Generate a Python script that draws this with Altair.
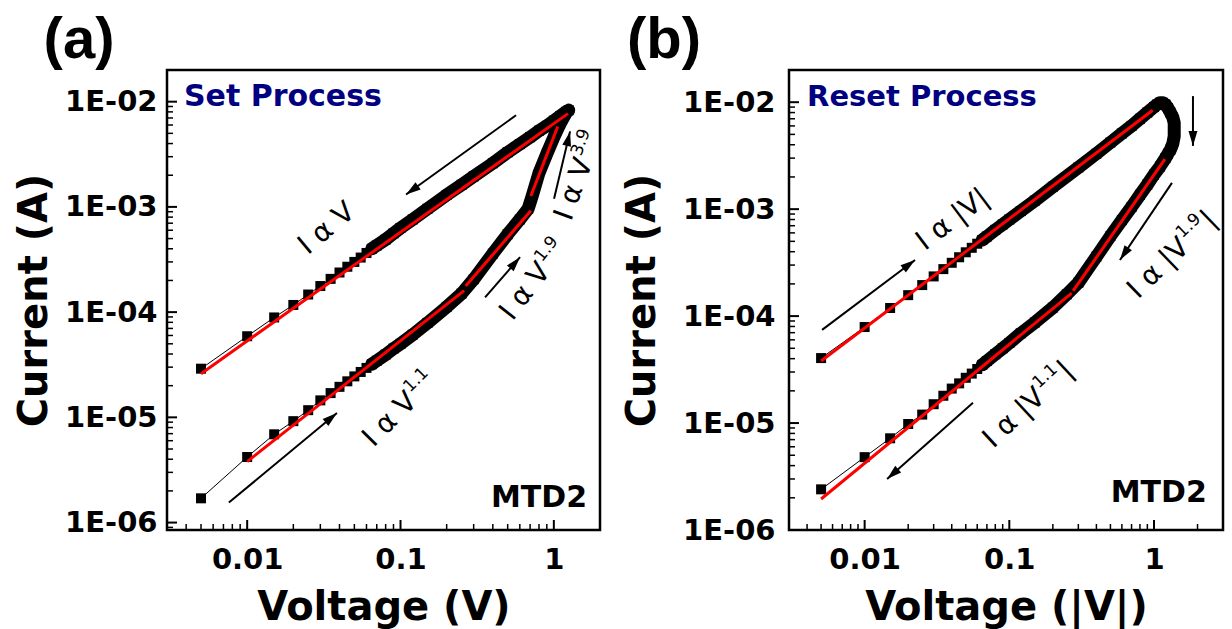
import math
import altair as alt
import pandas as pd

# ---------------- data ----------------
# (a) Set process: forward sweep (low state), then backward sweep (high state)
a_fwd_v = [0.005, 0.01, 0.015, 0.02, 0.025, 0.03, 0.035, 0.04, 0.045, 0.05, 0.055, 0.06, 0.065,
           0.07, 0.08, 0.09, 0.1, 0.12, 0.15, 0.2, 0.25, 0.3, 0.4, 0.5, 0.6, 0.68, 0.72, 0.8,
           0.9, 1.0, 1.1, 1.2, 1.25]
a_fwd_i = [1.7e-6, 4.2e-6, 6.9e-6, 9.2e-6, 1.17e-5, 1.45e-5, 1.7e-5, 1.95e-5, 2.2e-5, 2.45e-5,
           2.7e-5, 2.95e-5, 3.2e-5, 3.45e-5, 3.95e-5, 4.5e-5, 5.0e-5, 6.1e-5, 7.9e-5, 1.12e-4,
           1.5e-4, 2.05e-4, 3.6e-4, 5.5e-4, 7.6e-4, 9.6e-4, 1.25e-3, 2.1e-3, 3.2e-3, 4.6e-3,
           6.2e-3, 7.8e-3, 8.3e-3]
a_bwd_v = [1.2, 1.1, 1.0, 0.9, 0.8, 0.7, 0.6, 0.5, 0.4, 0.3, 0.25, 0.2, 0.15, 0.12, 0.1, 0.09,
           0.08, 0.07, 0.065, 0.06, 0.055, 0.05, 0.045, 0.04, 0.035, 0.03, 0.025, 0.02, 0.015,
           0.01, 0.005]
a_bwd_i = [8.0e-3, 7.3e-3, 6.6e-3, 5.9e-3, 5.3e-3, 4.6e-3, 3.95e-3, 3.3e-3, 2.6e-3, 1.95e-3,
           1.62e-3, 1.3e-3, 9.6e-4, 7.6e-4, 6.3e-4, 5.6e-4, 4.9e-4, 4.3e-4, 4.0e-4, 3.65e-4,
           3.3e-4, 3.0e-4, 2.7e-4, 2.38e-4, 2.07e-4, 1.77e-4, 1.47e-4, 1.17e-4, 8.9e-5, 5.9e-5,
           2.9e-5]

# (b) Reset process: rising |V| (high state), reset drop, falling |V| (low state)
b_up_v = [0.005, 0.01, 0.015, 0.02, 0.025, 0.03, 0.035, 0.04, 0.045, 0.05, 0.055, 0.06, 0.065,
          0.07, 0.08, 0.09, 0.1, 0.12, 0.15, 0.2, 0.3, 0.4, 0.5, 0.6, 0.7, 0.8, 0.9, 1.0, 1.05,
          1.1, 1.15, 1.2]
b_up_i = [4.05e-5, 7.9e-5, 1.19e-4, 1.57e-4, 1.95e-4, 2.35e-4, 2.75e-4, 3.15e-4, 3.55e-4,
          3.95e-4, 4.35e-4, 4.75e-4, 5.15e-4, 5.55e-4, 6.4e-4, 7.2e-4, 8.0e-4, 9.6e-4, 1.2e-3,
          1.62e-3, 2.45e-3, 3.3e-3, 4.2e-3, 5.1e-3, 6.0e-3, 7.0e-3, 8.0e-3, 9.0e-3, 9.5e-3,
          9.9e-3, 9.9e-3, 9.5e-3]
b_rst_v = [1.25, 1.3, 1.35, 1.38, 1.38, 1.38, 1.35]
b_rst_i = [8.8e-3, 8.0e-3, 7.2e-3, 6.4e-3, 5.6e-3, 4.8e-3, 4.1e-3]
b_low_v = [1.3, 1.25, 1.2, 1.1, 1.0, 0.9, 0.8, 0.7, 0.6, 0.5, 0.4, 0.3, 0.25, 0.2, 0.15, 0.12,
           0.1, 0.09, 0.08, 0.07, 0.065, 0.06, 0.055, 0.05, 0.045, 0.04, 0.035, 0.03, 0.025,
           0.02, 0.015, 0.01, 0.005]
b_low_i = [3.6e-3, 3.3e-3, 3.0e-3, 2.5e-3, 2.1e-3, 1.7e-3, 1.36e-3, 1.05e-3, 7.9e-4, 5.6e-4,
           3.6e-4, 2.05e-4, 1.6e-4, 1.2e-4, 8.7e-5, 6.9e-5, 5.6e-5, 5.0e-5, 4.4e-5, 3.8e-5,
           3.5e-5, 3.2e-5, 2.9e-5, 2.65e-5, 2.35e-5, 2.1e-5, 1.8e-5, 1.5e-5, 1.2e-5, 9.8e-6,
           7.2e-6, 4.8e-6, 2.4e-6]

# red power-law fit segments (end points)
a_fit_v = [[0.005, 1.235], [0.01, 0.26], [0.266, 0.708], [0.708, 1.06]]
a_fit_i = [[2.6e-5, 7.7e-3], [3.8e-6, 1.6e-4], [1.77e-4, 9.2e-4], [1.27e-3, 5.8e-3]]
b_fit_v = [[0.005, 0.98], [0.005, 0.27], [0.276, 1.19]]
b_fit_i = [[3.8e-5, 8.4e-3], [1.95e-6, 1.64e-4], [1.72e-4, 2.93e-3]]

# tick values
y_major = [1e-6, 1e-5, 1e-4, 1e-3, 1e-2]
x_major = [0.01, 0.1, 1]

# annotations (data coordinates)
a_arrows = [(0.567, 7.43e-3, 0.1087, 1.31e-3), (0.0076, 1.55e-6, 0.0385, 1.1e-5),
            (0.356, 1.38e-4, 0.602, 3.33e-4), (1.003, 1.195e-3, 1.276, 5.22e-3)]
b_arrows = [(0.00508, 7.43e-5, 0.0223, 3.35e-4), (0.0561, 1.55e-5, 0.0143, 3.0e-6),
            (1.331, 1.76e-3, 0.582, 3.35e-4), (1.86, 1.14e-2, 1.86, 3.9e-3)]
a_labels = [("I α V", "", "", 0.0332, 6.18e-4, -40), ("I α V", "1.1", "", 0.0992, 1.17e-5, -45),
            ("I α V", "1.9", "", 0.743, 1.97e-4, -52), ("I α V", "3.9", "", 1.459, 1.94e-3, -70)]
b_labels = [("I α |V|", "", "", 0.0408, 7.93e-4, -37), ("I α |V", "1.1", "|", 0.1345, 1.45e-5, -43),
            ("I α |V", "1.9", "|", 1.331, 3.66e-4, -44)]

FONT = "DejaVu Sans"
ANN_FS, SUP_FS = 28, 17
EM = {'I': 0.295, ' ': 0.318, 'α': 0.659, 'V': 0.684, '|': 0.337, '.': 0.318}
HEAD = "M0,0L0.6,2L-0.6,2Z"


def tw(s, fs):
    return sum(EM.get(c, 0.636) for c in s) * fs


def make_tools(P):
    lx0, lx1 = math.log10(P['xdom'][0]), math.log10(P['xdom'][1])
    ly0, ly1 = math.log10(P['ydom'][0]), math.log10(P['ydom'][1])

    def to_px(v, i):
        return (P['W'] * (math.log10(v) - lx0) / (lx1 - lx0),
                P['H'] * (ly1 - math.log10(i)) / (ly1 - ly0))

    def to_data(px, py):
        return (10 ** (lx0 + px / P['W'] * (lx1 - lx0)),
                10 ** (ly1 - py / P['H'] * (ly1 - ly0)))
    return to_px, to_data


def build_panel(P):
    to_px, to_data = make_tools(P)
    xs = alt.Scale(type='log', domain=P['xdom'], nice=False)
    ys = alt.Scale(type='log', domain=P['ydom'], nice=False)
    common = dict(domain=False, ticks=False, tickSize=0, grid=False, labelFont=FONT,
                  labelFontWeight='bold', labelFontSize=29, labelColor='black',
                  titleFont=FONT, titleFontWeight='bold', titleFontSize=40, titleColor='black')
    xax = alt.Axis(values=x_major, labelExpr="format(datum.value, '~g')", title=P['xtitle'],
                   labelPadding=15, labelFlush=False, titlePadding=13, **common)
    yax = alt.Axis(values=y_major, labelExpr="'1E-0' + format(-log(datum.value)/LN10, '.0f')",
                   title='Current (A)', labelPadding=P['ylp'], titlePadding=P['ytp'], **common)

    def X(f):
        return alt.X(f, type='quantitative', scale=xs, axis=xax, title=P['xtitle'])

    def Y(f):
        return alt.Y(f, type='quantitative', scale=ys, axis=yax, title='Current (A)')

    vv, ii = [], []
    for sv, si in P['sweep']:
        vv += sv
        ii += si
    sweep = pd.DataFrame({'v': vv, 'i': ii, 'idx': list(range(len(vv)))})

    thin = alt.Chart(sweep).mark_line(color='black', strokeWidth=1).encode(
        x=X('v'), y=Y('i'), order='idx:Q')
    band = alt.Chart(sweep).transform_filter('datum.v >= 0.065').mark_line(
        color='black', strokeWidth=13, strokeJoin='round', strokeCap='round').encode(
        x=X('v'), y=Y('i'), order='idx:Q')
    pts = alt.Chart(sweep).mark_square(size=100, color='black', opacity=1).encode(
        x=X('v'), y=Y('i'))

    fr = []
    for k, (fv, fi) in enumerate(zip(P['fit_v'], P['fit_i'])):
        for v, i in zip(fv, fi):
            fr.append({'seg': k, 'v': v, 'i': i})
    fits = alt.Chart(pd.DataFrame(fr)).mark_line(color='#ff0000', strokeWidth=3).encode(
        x=X('v'), y=Y('i'), detail='seg:N')

    lo, hi = P['ydom']
    ymaj = [t for t in y_major if lo <= t <= hi]
    ymin = [k * 10 ** e for e in range(-7, -1) for k in range(2, 10) if lo < k * 10 ** e < hi]
    xlo, xhi = P['xdom']
    xmaj = [t for t in x_major if xlo <= t <= xhi]
    xmin = [k * 10 ** e for e in range(-3, 1) for k in range(1, 10)
            if xlo <= k * 10 ** e < xhi and k != 1]
    H = P['H']
    t1 = alt.Chart(pd.DataFrame({'i': ymaj})).mark_rule(color='black', strokeWidth=2).encode(
        y=Y('i'), x=alt.value(0), x2=alt.value(10))
    t2 = alt.Chart(pd.DataFrame({'i': ymin})).mark_rule(color='black', strokeWidth=1.5).encode(
        y=Y('i'), x=alt.value(0), x2=alt.value(6))
    t3 = alt.Chart(pd.DataFrame({'v': xmaj})).mark_rule(color='black', strokeWidth=2).encode(
        x=X('v'), y=alt.value(H), y2=alt.value(H - 10))
    t4 = alt.Chart(pd.DataFrame({'v': xmin})).mark_rule(color='black', strokeWidth=1.5).encode(
        x=X('v'), y=alt.value(H), y2=alt.value(H - 6))

    ar = []
    for v1, i1, v2, i2 in P['arrows']:
        p1, p2 = to_px(v1, i1), to_px(v2, i2)
        dx, dy = p2[0] - p1[0], p2[1] - p1[1]
        ang = math.degrees(math.atan2(dx, -dy)) % 360
        ar.append({'v': v1, 'i': i1, 'v2': v2, 'i2': i2, 'ang': ang})
    ardf = pd.DataFrame(ar)
    shafts = alt.Chart(ardf).mark_rule(color='black', strokeWidth=2).encode(
        x=X('v'), y=Y('i'), x2='v2', y2='i2')
    heads = alt.Chart(ardf).mark_point(shape=HEAD, filled=True, color='black', opacity=1,
                                       size=220, strokeWidth=0).encode(
        x=X('v2'), y=Y('i2'), angle=alt.Angle('ang:Q', scale=None))

    tr = []
    for main, sup, tail, v, i, angd in P['labels']:
        cx, cy = to_px(v, i)
        th = math.radians(angd)
        ux, uy = math.cos(th), math.sin(th)
        nx, ny = math.sin(th), -math.cos(th)
        m, s, t = tw(main, ANN_FS), tw(sup, SUP_FS), tw(tail, ANN_FS)
        W = m + s + t
        sx, sy = cx - ux * W / 2, cy - uy * W / 2
        pieces = [(main, 0, 0, ANN_FS)]
        if sup:
            pieces.append((sup, m + 1, 10, SUP_FS))
        if tail:
            pieces.append((tail, m + s + 2, 0, ANN_FS))
        for txt, off, raise_, fs in pieces:
            px = sx + ux * off + nx * raise_
            py = sy + uy * off + ny * raise_
            dv, di = to_data(px, py)
            tr.append({'v': dv, 'i': di, 't': txt, 'ang': angd % 360, 'fs': fs})
    texts = alt.Chart(pd.DataFrame(tr)).mark_text(
        align='left', baseline='middle', font=FONT, color='black').encode(
        x=X('v'), y=Y('i'), text='t:N', angle=alt.Angle('ang:Q', scale=None),
        size=alt.Size('fs:Q', scale=None))

    proc = alt.Chart(pd.DataFrame({'v': [P['proc'][1]], 'i': [P['proc'][2]], 't': [P['proc'][0]]})
                     ).mark_text(align='left', baseline='middle', font=FONT, fontWeight='bold',
                                 fontSize=P['procfs'], color='#000080').encode(
        x=X('v'), y=Y('i'), text='t:N')
    mtd = alt.Chart(pd.DataFrame({'v': [P['mtd'][0]], 'i': [P['mtd'][1]], 't': ['MTD2']})
                    ).mark_text(align='right', baseline='middle', font=FONT, fontWeight='bold',
                                fontSize=30, color='black').encode(x=X('v'), y=Y('i'), text='t:N')
    letter = alt.Chart(pd.DataFrame({'t': [P['letter']]})).mark_text(
        align='center', baseline='alphabetic', font='Liberation Sans', fontWeight='bold',
        fontSize=58, color='black').encode(x=alt.value(P['letx']), y=alt.value(-12), text='t:N')

    return alt.layer(thin, band, pts, fits, t1, t2, t3, t4, shafts, heads, texts, proc, mtd,
                     letter).properties(width=P['W'], height=P['H'])


PA = dict(xdom=[0.003, 2.0], ydom=[8.5e-7, 2e-2], W=433, H=460, xtitle='Voltage (V)',
          ylp=10, ytp=10, sweep=[(a_fwd_v, a_fwd_i), (a_bwd_v, a_bwd_i)],
          fit_v=a_fit_v, fit_i=a_fit_i, arrows=a_arrows, labels=a_labels,
          proc=('Set Process', 0.00387, 1.10e-2), procfs=30, mtd=(1.647, 1.73e-6),
          letter='(a)', letx=-88)
PB = dict(xdom=[0.003, 3.0], ydom=[1e-6, 2e-2], W=434, H=460, xtitle='Voltage (|V|)',
          ylp=14, ytp=20, sweep=[(b_up_v, b_up_i), (b_rst_v, b_rst_i), (b_low_v, b_low_i)],
          fit_v=b_fit_v, fit_i=b_fit_i, arrows=b_arrows, labels=b_labels,
          proc=('Reset Process', 0.0040, 1.12e-2), procfs=29, mtd=(2.32, 2.23e-6),
          letter='(b)', letx=-125)

chart = alt.hconcat(build_panel(PA), build_panel(PB), spacing=19).properties(
    padding={'left': 13, 'top': 10, 'right': 0, 'bottom': 0},
    background='white'
).configure_view(stroke='black', strokeWidth=2.5)

chart.save("out.html", embed_options={"renderer": "svg", "actions": False})
